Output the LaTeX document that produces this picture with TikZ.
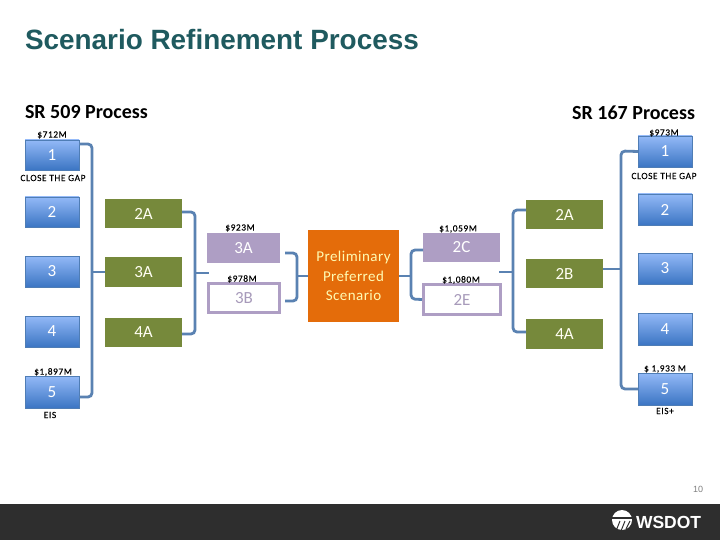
\documentclass[tikz,border=0pt]{standalone}
\usepackage{fontspec}
\setmainfont{Carlito}
\newfontfamily\titlefont{Liberation Sans}
\newfontfamily\smallfont[LetterSpace=6,FakeBold=0.2]{Carlito}
\newfontfamily\prefont[LetterSpace=3]{Carlito}
\definecolor{linkblue}{HTML}{5A82B2}
\definecolor{boxline}{HTML}{4F7DB5}
\definecolor{boxtop}{HTML}{93B9F7}
\definecolor{boxbot}{HTML}{3B75C3}
\definecolor{olive}{HTML}{76893B}
\definecolor{lilac}{HTML}{AE9EC4}
\definecolor{orangebox}{HTML}{E46C0A}
\definecolor{titleteal}{HTML}{1F5A5F}
\definecolor{barc}{HTML}{2E2E2E}
\tikzset{
  every node/.style={inner sep=0pt,outer sep=0pt},
  bluebox/.style={draw=boxline,line width=.8pt,top color=boxtop,bottom color=boxbot,minimum width=54pt,text=white,font=\fontsize{17}{18}\selectfont},
  greenbox/.style={fill=olive,minimum width=77pt,text=white!95!yellow,font=\fontsize{17}{18}\selectfont},
  lilacbox/.style={fill=lilac,minimum width=73pt,text=white,font=\fontsize{17}{18}\selectfont},
  lilacframe/.style={draw=lilac,fill=white,line width=3pt,text=lilac!85!gray,font=\fontsize{17}{18}\selectfont},
  conn/.style={draw=linkblue,line width=2.8pt,rounded corners=4pt},
  stub/.style={draw=linkblue,line width=2.8pt},
  tiny/.style={font=\smallfont\fontsize{9.4}{10}\selectfont,text=black},
  head/.style={font=\bfseries\fontsize{20}{22}\selectfont,text=black}
}
\begin{document}
\begin{tikzpicture}[x=1pt,y=-1pt]
\useasboundingbox (0,0) rectangle (720,540);
\fill[white] (0,0) rectangle (720,540);
\node[anchor=west,font=\titlefont\bfseries\fontsize{27.9}{30}\selectfont,text=titleteal] (title) at (25,40) {Scenario Refinement Process};
\node[head,anchor=west] (h1) at (25,112) {SR 509 Process};
\node[head,anchor=east] (h2) at (695,113) {SR 167 Process};
% left blue
\node[bluebox,minimum height=30pt] (l1) at (52,155) {1};
\node[bluebox,minimum height=30pt] (l2) at (52,212) {2};
\node[bluebox,minimum height=31pt] (l3) at (52,271.5) {3};
\node[bluebox,minimum height=31pt] (l4) at (52,331.5) {4};
\node[bluebox,minimum height=32pt] (l5) at (52,392) {5};
% left green
\node[greenbox,minimum height=29pt] (lg2) at (143.5,213.5) {2A};
\node[greenbox,minimum height=30pt] (lg3) at (143.5,272) {3A};
\node[greenbox,minimum height=29pt] (lg4) at (143.5,332.5) {4A};
% lilac
\node[lilacbox,minimum height=30pt] (p3a) at (243.5,248) {3A};
\node[lilacframe,minimum width=71pt,minimum height=29pt] (p3b) at (244,298) {3B};
\node[lilacbox,minimum width=77pt,minimum height=29pt] (p2c) at (461.5,247.5) {2C};
\node[lilacframe,minimum width=77pt,minimum height=30pt] (p2e) at (462,299.5) {2E};
% centre
\node[fill=orangebox,minimum width=91pt,minimum height=92pt,align=center,text=white!70!yellow,font=\prefont\fontsize{15}{19.5}\selectfont] (pref) at (353.5,276) {Preliminary\\Preferred\\Scenario};
% right green
\node[greenbox,minimum height=29pt] (rg2) at (564.5,214.5) {2A};
\node[greenbox,minimum height=29pt] (rg3) at (564.5,273.5) {2B};
\node[greenbox,minimum height=30pt] (rg4) at (564.5,334) {4A};
% right blue
\node[bluebox,minimum height=31pt] (r1) at (665,151.5) {1};
\node[bluebox,minimum height=31pt] (r2) at (665,209.5) {2};
\node[bluebox,minimum height=31pt] (r3) at (665,268.5) {3};
\node[bluebox,minimum height=32pt] (r4) at (665,329) {4};
\node[bluebox,minimum height=32pt] (r5) at (665,389) {5};
% connectors
\coordinate (s1a) at (92,144); \coordinate (s1b) at (92,397);
\draw[conn] ([yshift=11pt]l1.east) -- (s1a) -- (s1b) -- ([yshift=-5pt]l5.east);
\coordinate (s1m) at (92,272); \draw[stub] (s1m) -- (lg3.west);
\coordinate (s2a) at (195,212); \coordinate (s2b) at (195,334);
\draw[conn] ([yshift=1.5pt]lg2.east) -- (s2a) -- (s2b) -- ([yshift=-1.5pt]lg4.east);
\coordinate (s2m) at (195,273); \coordinate (s2e) at (209,273); \draw[stub] (s2m) -- (s2e);
\coordinate (s3a) at (297,253); \coordinate (s3b) at (297,301);
\coordinate (s3c) at (285,253); \coordinate (s3d) at (285,301);
\draw[conn] (s3c) -- (s3a) -- (s3b) -- (s3d);
\coordinate (s3m) at (297,276); \draw[stub] (s3m) -- (pref.west);
\coordinate (s4a) at (411,250); \coordinate (s4b) at (411,299);
\draw[conn] ([yshift=-2.5pt]p2c.west) -- (s4a) -- (s4b) -- ([xshift=-1.5pt]p2e.west);
\coordinate (s4m) at (411,276); \draw[stub] (pref.east) -- (s4m);
\coordinate (s5a) at (513,210); \coordinate (s5b) at (513,332);
\draw[conn] ([yshift=4.5pt]rg2.west) -- (s5a) -- (s5b) -- ([yshift=2pt]rg4.west);
\coordinate (s5m) at (513,272); \coordinate (s5e) at (499,272); \draw[stub] (s5e) -- (s5m);
\coordinate (s6a) at (621,151); \coordinate (s6b) at (621,389);
\draw[conn] (r1.west) -- (s6a) -- (s6b) -- (r5.west);
\coordinate (s6m) at (621,269); \draw[stub] ([yshift=4.5pt]rg3.east) -- (s6m);
% small labels
\node[tiny] (t1) at (52,135) {\$712M};
\node[tiny] (t2) at (53,178) {CLOSE THE GAP};
\node[tiny] (t3) at (53,372) {\$1,897M};
\node[tiny] (t4) at (50,415) {EIS};
\node[tiny] (t5) at (240,228) {\$923M};
\node[tiny] (t6) at (242,279) {\$978M};
\node[tiny] (t7) at (458,229) {\$1,059M};
\node[tiny] (t8) at (461,280) {\$1,080M};
\node[tiny] (t9) at (664,133) {\$973M};
\node[tiny] (t10) at (664,176) {CLOSE THE GAP};
\node[tiny] (t11) at (665,369) {\$ 1,933 M};
\node[tiny] (t12) at (665,411) {EIS+};
% footer
\node[text=gray,font=\titlefont\fontsize{9}{10}\selectfont] (pg) at (698,489) {10};
\fill[barc] (0,504) rectangle (720,540);
\fill[white] (622,520) circle (10);
\fill[barc] (611,516.5) rectangle (633,519);
\draw[barc,line width=1pt] (620,521) -- (616,531) (625,521) -- (621,531) (630,521) -- (626,529);
\node[anchor=west,text=white,font=\titlefont\bfseries\fontsize{17.5}{18}\selectfont] (logo) at (636,522) {WSDOT};
\end{tikzpicture}
\end{document}
